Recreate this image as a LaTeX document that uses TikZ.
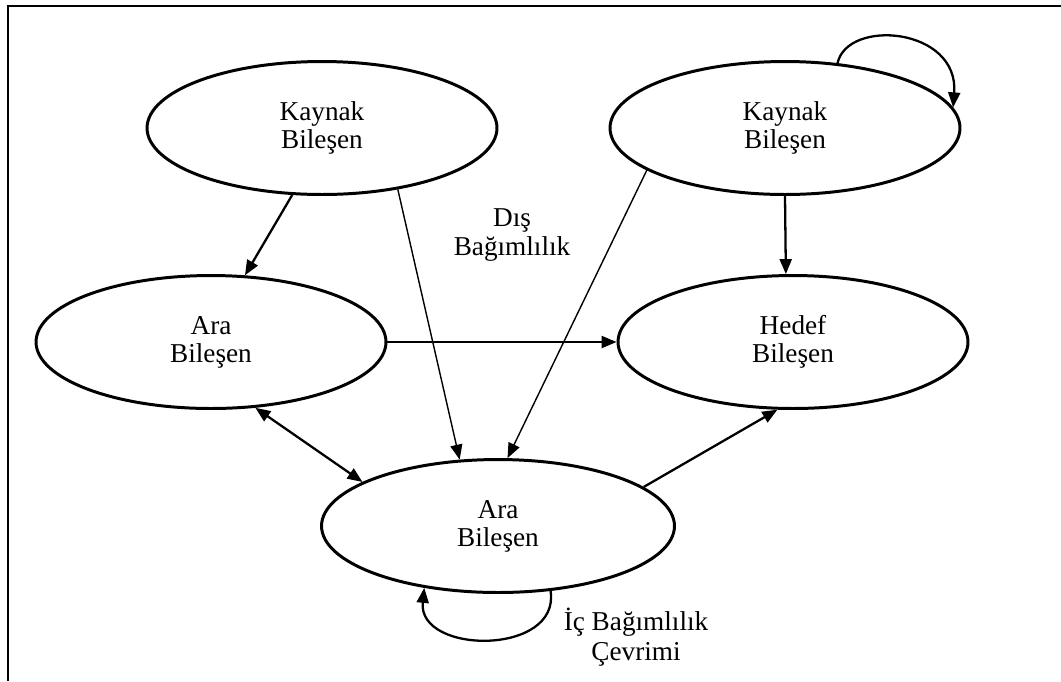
\documentclass[tikz,border=0pt]{standalone}
\usepackage{fontspec}
\setmainfont{Liberation Serif}
\usetikzlibrary{shapes.geometric,arrows.meta}

\begin{document}
\begin{tikzpicture}[x=0.02cm,y=-0.02cm,
  >={Triangle[length=0.3cm,width=0.24cm]},
  comp/.style={shape=ellipse,draw=black,line width=1.7pt,minimum width=7cm,minimum height=2.66cm,inner sep=0pt,align=center,font=\fontsize{15.5}{16}\selectfont},
  dep/.style={line width=1.3pt,->},
  thindep/.style={line width=0.8pt,->},
  note/.style={align=center,font=\fontsize{15.5}{17}\selectfont}]
\useasboundingbox (0,0) rectangle (1061,681);
\draw[line width=1.1pt] (8,681) -- (8,6) -- (1061,6);
\node[comp] (K1) at (322,128) {Kaynak\\Bileşen};
\node[comp] (K2) at (785,128) {Kaynak\\Bileşen};
\node[comp] (A1) at (211,342) {Ara\\Bileşen};
\node[comp] (H) at (793,342) {Hedef\\Bileşen};
\node[comp,minimum width=7.06cm] (A2) at (498,526) {Ara\\Bileşen};
\node[note] (dis) at (512,235) {Dış\\Bağımlılık};
\node[note] (ic) at (636,637) {İç Bağımlılık\\Çevrimi};
\path [dep] (K1.246) edge (A1.63);
\path [thindep] (K1.321) edge (A2.120);
\path [thindep] (K2.197) edge (A2.82);
\path [dep] (K2.270) edge (H.96);
\path [dep] (A1.east) edge (H.west);
\path [dep,<->] (A1.304) edge (A2.162);
\path [dep] (A2.15) edge (H.257);
\draw [dep] (K2.51) .. controls +(10,-45) and +(6,-80) .. (K2.7);
\draw [dep] (A2.309) .. controls +(10,65) and +(-7,67) .. (A2.220);
\end{tikzpicture}
\end{document}
